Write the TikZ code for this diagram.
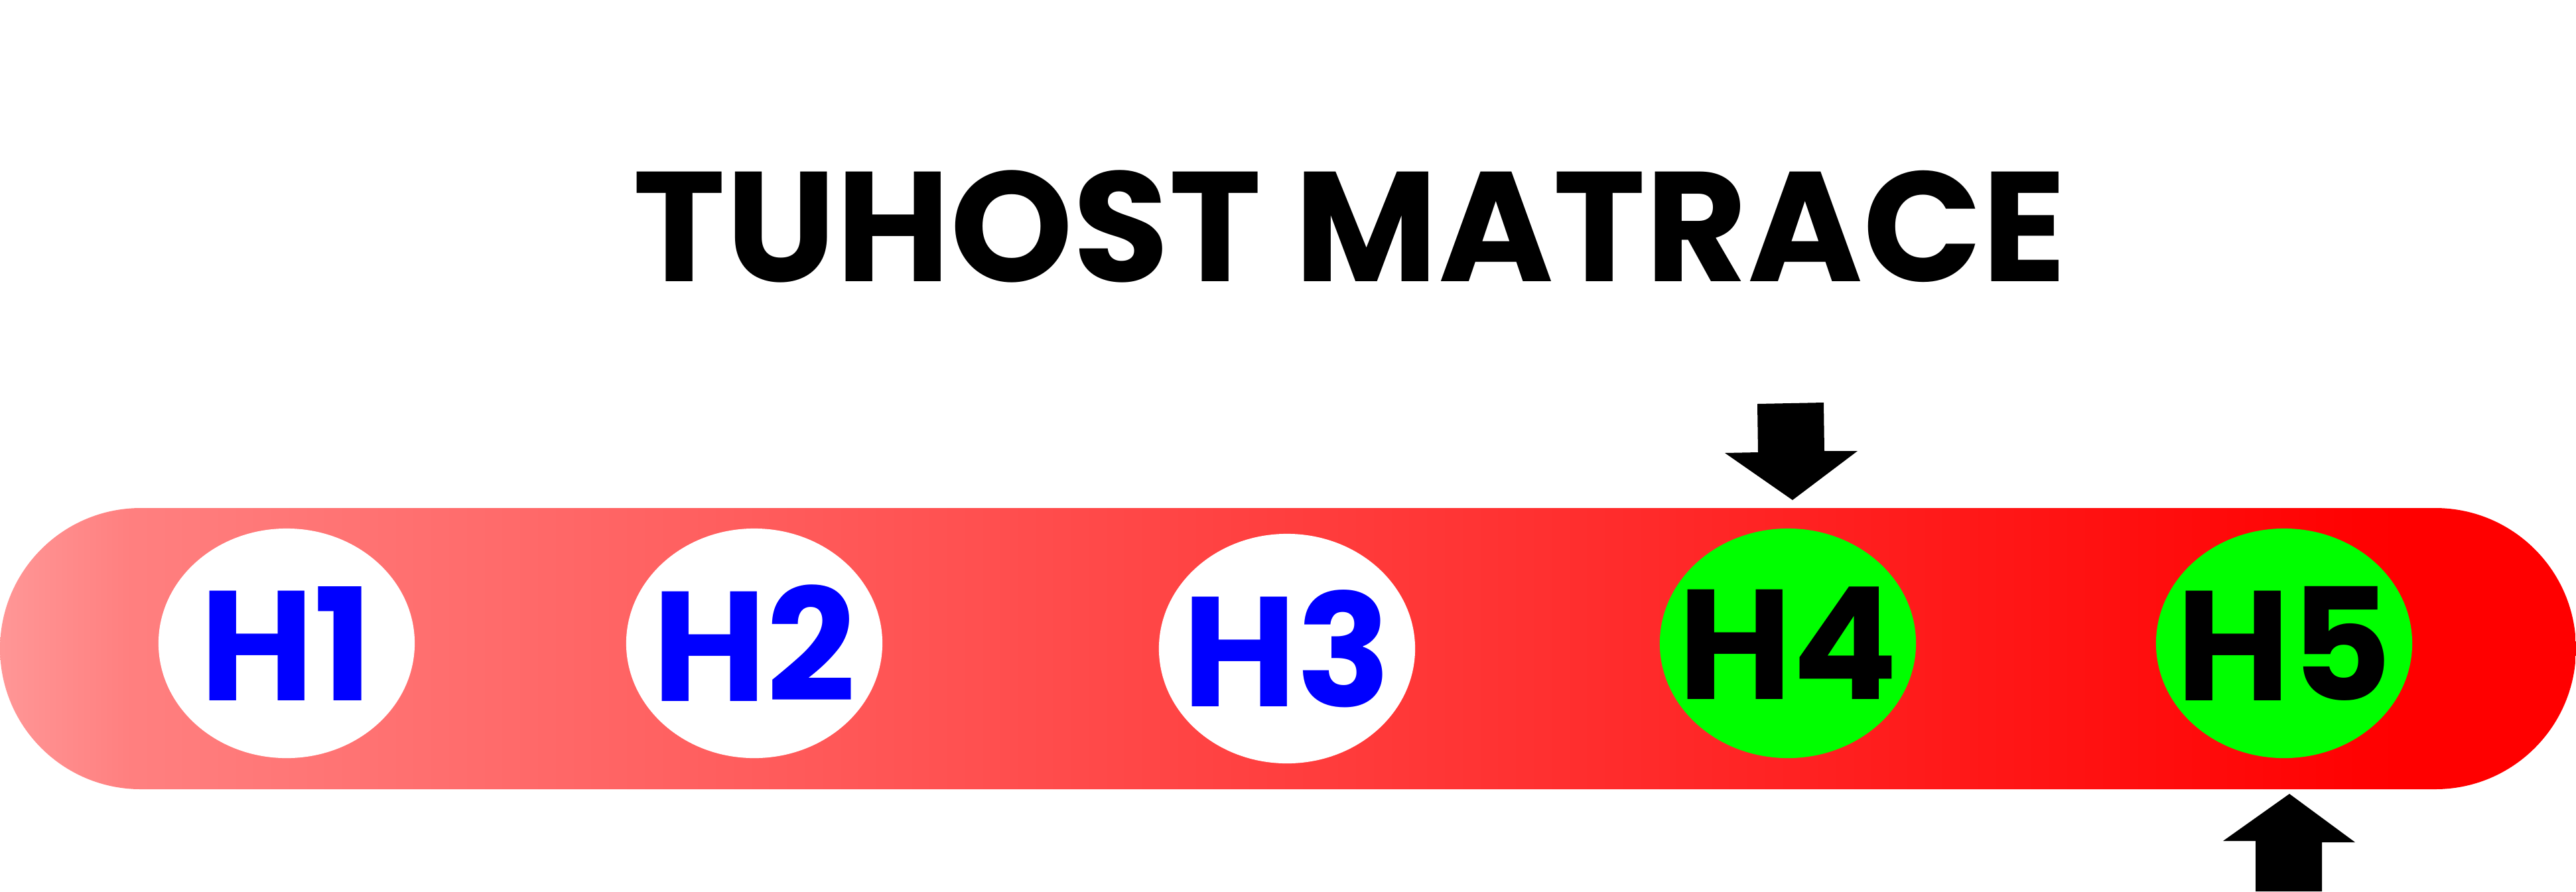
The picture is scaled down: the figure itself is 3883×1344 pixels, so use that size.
\documentclass[tikz,border=0pt]{standalone}
\usepackage{fontspec}
\setmainfont{Poppins}
\usetikzlibrary{shapes.geometric}

\definecolor{holdgreen}{RGB}{0,255,0}
\definecolor{holdblue}{RGB}{0,0,255}

\pgfdeclarehorizontalshading{matrace}{100bp}{
  rgb(0bp)=(1,0.59,0.59);
  rgb(25bp)=(1,0.59,0.59);
  rgb(27.5bp)=(1,0.5,0.5);
  rgb(71.5bp)=(1,0,0);
  rgb(100bp)=(1,0,0)}

\tikzset{
  bigfont/.style={font=\fontsize{67}{67}\selectfont\bfseries},
  hold/.style={ellipse, minimum width=3.86cm, minimum height=3.46cm, inner sep=0pt},
  holdwhite/.style={hold, fill=white},
  holdok/.style={hold, fill=holdgreen},
  holdtext/.style={bigfont, inner sep=0pt}
}

\begin{document}
\begin{tikzpicture}[x=0.01cm, y=-0.01cm]
\useasboundingbox (0,0) rectangle (3883,1344);

%title
\node[bigfont] (title) at (2035,341) {TUHOST MATRACE};

%mattress bar
\shade[shading=matrace, rounded corners=2.12cm] (0,766) rectangle (3883,1190);

%holds
\node[holdwhite] (h1) at (432,970) {};
\node[holdwhite] (h2) at (1137,970) {};
\node[holdwhite] (h3) at (1940,978) {};
\node[holdok] (h4) at (2695,970) {};
\node[holdok] (h5) at (3443,970) {};

\node[holdtext, text=holdblue] (t1) at (h1) {H1};
\node[holdtext, text=holdblue] (t2) at (h2) {H2};
\node[holdtext, text=holdblue] (t3) at (h3) {H3};
\node[holdtext] (t4) at (h4) {H4};
\node[holdtext] (t5) at (h5) {H5};

%arrow down (top)
\fill[black] (2649,609) -- (2749,607) -- (2750,680) -- (2800,680) -- (2702,754)
  -- (2600,683) -- (2650,682) -- cycle;

%arrow up (bottom)
\fill[black] (3451,1197) -- (3550,1270) -- (3500,1270) -- (3500,1344)
  -- (3400,1344) -- (3400,1268) -- (3351,1268) -- cycle;

\end{tikzpicture}
\end{document}
